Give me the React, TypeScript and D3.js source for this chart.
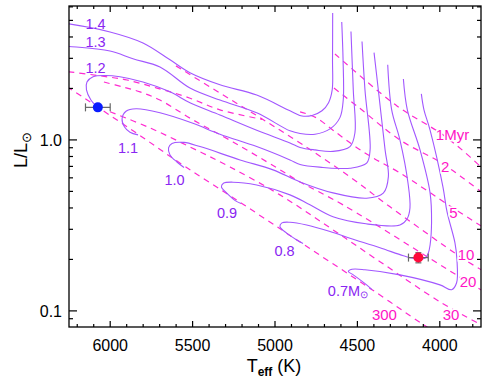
import React from "react";
import * as d3 from "d3";

// Pre-main-sequence tracks, [Teff (K), L/Lsun], from the Hayashi top down to the ZAMS end
const track14 = [[4650, 5.53], [4651, 2.94], [4653, 1.96], [4675, 1.65], [4715, 1.48], [4775, 1.39], [4836, 1.38], [4909, 1.48], [5111, 1.83], [5334, 2.1], [5516, 2.47], [5637, 2.94], [5801, 3.69], [6001, 4.28], [6250, 4.77], [6320, 4.85]];
const track13 = [[4595, 4.9], [4587, 2.94], [4586, 1.71], [4606, 1.35], [4666, 1.16], [4757, 1.08], [4848, 1.09], [4909, 1.13], [5111, 1.44], [5334, 1.71], [5516, 2.01], [5698, 2.67], [5862, 2.98], [6001, 3.31], [6250, 3.52], [6320, 3.56]];
const track12 = [[4539, 4.3], [4525, 1.96], [4515, 1.1], [4545, 0.914], [4648, 0.857], [4757, 0.874], [4848, 0.904], [4909, 0.96], [5111, 1.14], [5334, 1.4], [5516, 1.65], [5637, 1.91], [5801, 2.18], [5941, 2.34], [6032, 2.38], [6104, 2.34], [6141, 2.18], [6144, 1.96], [6117, 1.71], [6086, 1.58]];
const track11 = [[4472, 3.76], [4454, 1.96], [4423, 0.874], [4444, 0.731], [4545, 0.683], [4606, 0.681], [4709, 0.69], [4848, 0.719], [4909, 0.764], [5111, 0.914], [5334, 1.08], [5498, 1.25], [5698, 1.44], [5843, 1.52], [5904, 1.47], [5928, 1.33], [5913, 1.19], [5880, 1.11], [5831, 1.07]];
const track10 = [[4399, 3.24], [4373, 1.96], [4332, 0.874], [4312, 0.61], [4343, 0.488], [4444, 0.456], [4648, 0.49], [4848, 0.568], [5012, 0.668], [5212, 0.764], [5455, 0.914], [5552, 0.967], [5625, 0.954], [5646, 0.898], [5637, 0.817], [5595, 0.743], [5552, 0.69]];
const track09 = [[4316, 2.75], [4292, 1.5], [4242, 1.0], [4193, 0.56], [4181, 0.4], [4199, 0.345], [4242, 0.318], [4448, 0.323], [4648, 0.355], [4788, 0.417], [4909, 0.477], [5111, 0.545], [5255, 0.566], [5313, 0.558], [5325, 0.531], [5291, 0.487], [5234, 0.437], [5206, 0.425]];
const track08 = [[4221, 2.27], [4197, 1.5], [4120, 0.874], [4059, 0.49], [4050, 0.331], [4059, 0.243], [4070, 0.2175], [4090, 0.203], [4163, 0.203], [4221, 0.21], [4363, 0.234], [4545, 0.266], [4666, 0.291], [4808, 0.318], [4909, 0.33], [4958, 0.327], [4970, 0.311], [4929, 0.285], [4868, 0.26], [4830, 0.248]];
const track07 = [[4112, 1.86], [4096, 1.5], [4059, 1.14], [3981, 0.531], [3956, 0.379], [3908, 0.25], [3896, 0.199], [3898, 0.146], [3928, 0.133], [3999, 0.142], [4242, 0.1625], [4454, 0.174], [4533, 0.175], [4555, 0.17], [4525, 0.1625], [4444, 0.142], [4411, 0.133]];

const tracks = [track14, track13, track12, track11, track10, track09, track08, track07];
const trackNames = ["1.4", "1.3", "1.2", "1.1", "1.0", "0.9", "0.8", "0.7"];
const trackLabelAt = [[6089, 4.77], [6089, 3.72], [6089, 2.64], [5892, 0.898], [5610, 0.584], [5291, 0.374], [4942, 0.223], [4557, 0.131]];

// Isochrones
const iso1 = [[4636, 3.18], [4260, 1.58], [3999, 1.1], [3865, 0.874], [3740, 0.68]];
const iso2 = [[4642, 2.01], [4496, 1.56], [4242, 1.0], [3999, 0.743], [3877, 0.616], [3740, 0.49]];
const iso5 = [[4848, 1.46], [4751, 1.35], [4648, 1.14], [4527, 0.935], [4405, 0.785], [4242, 0.641], [3920, 0.4], [3740, 0.31]];
const iso10 = [[5601, 2.71], [5334, 1.88], [5091, 1.35], [4830, 0.935], [4545, 0.608], [4302, 0.406], [3865, 0.204], [3740, 0.172]];
const iso10b = [[6320, 2.53], [6250, 2.5], [6062, 2.37], [5898, 2.24], [5716, 2.01], [5534, 1.78], [5334, 1.5], [5079, 1.32]];
const iso20 = [[6038, 2.18], [5922, 2.04], [5819, 1.91], [5698, 1.71], [5498, 1.31], [5255, 0.973], [4988, 0.686], [4848, 0.568], [4587, 0.417], [3889, 0.16], [3740, 0.131]];
const iso30 = [[6001, 1.46], [5758, 1.175], [5516, 0.91], [5273, 0.695], [4970, 0.477], [4666, 0.306], [4363, 0.194], [3999, 0.113], [3740, 0.082]];
const iso300 = [[6320, 2.2], [6250, 2.01], [6086, 1.58], [5831, 1.08], [5552, 0.705], [5206, 0.428], [4830, 0.246], [4411, 0.133], [4078, 0.0806], [4040, 0.077]];

const isochrones = [iso1, iso2, iso5, iso10, iso10b, iso20, iso30, iso300];
const isoNames = ["1Myr", "2", "5", "10", "20", "30", "300"];
const isoLabelAt = [[3923, 1.07], [3968, 0.695], [3917, 0.374], [3841, 0.213], [3829, 0.148], [3932, 0.0947], [4336, 0.0947]];

// The two observed stars
const starTeff = [6075, 4130];
const starTeffErr = [75, 60];
const starL = [1.55, 0.205];
const starLErr = [0, 0.014];

const xMajor = [6000, 5500, 5000, 4500, 4000];
const xMinor = d3.range(3800, 6250, 100);
const yMajor = [0.1, 1.0];
const yMajorLabels = ["0.1", "1.0"];
const yMinor = [0.09, 0.2, 0.3, 0.4, 0.5, 0.6, 0.7, 0.8, 0.9, 2, 3, 4, 5, 6];

const W = 491, H = 381;
const L = 69, R = 481, T = 6, B = 327;
const font = "'Liberation Sans', Arial, Helvetica, sans-serif";
const trackColor = "#a257ff";
const trackText = "#8a26f2";
const isoColor = "#ff2ad0";
const isoText = "#ff14c6";

export default function App() {
  const x = d3.scaleLinear().domain([6250, 3750]).range([L, R]);
  const y = d3.scaleLog().domain([0.0805, 6.07]).range([B, T]);
  const line = d3.line<number[]>()
    .x(d => x(d[0]))
    .y(d => y(d[1]))
    .curve(d3.curveCatmullRom.alpha(0.5));

  return (
    <svg width={W} height={H} style={{ position: "absolute", left: 0, top: 0, background: "#fff" }}
      fontFamily={font}>
      <defs>
        <clipPath id="plot">
          <rect x={L} y={T} width={R - L} height={B - T} />
        </clipPath>
      </defs>

      <g clipPath="url(#plot)">
        {isochrones.map((d, i) => (
          <path key={"iso" + i} d={line(d) || ""} fill="none" stroke={isoColor}
            strokeWidth={1.2} strokeDasharray="6 5" />
        ))}
        {tracks.map((d, i) => (
          <path key={"tr" + i} d={line(d) || ""} fill="none" stroke={trackColor} strokeWidth={1.1} />
        ))}
      </g>

      {/* isochrone labels */}
      {isoNames.map((s, i) => (
        <text key={"il" + i} x={x(isoLabelAt[i][0])} y={y(isoLabelAt[i][1])} textAnchor="middle"
          dominantBaseline="central" fontSize={15} fill={isoText}
          stroke="#fff" strokeWidth={3} paintOrder="stroke">{s}</text>
      ))}

      {/* track labels */}
      {trackNames.map((s, i) => (
        <text key={"tl" + i} x={x(trackLabelAt[i][0])} y={y(trackLabelAt[i][1])}
          textAnchor="middle" dominantBaseline="central" fontSize={14.5} fill={trackText}>
          {s}
          {i === trackNames.length - 1 && (
            <>
              <tspan>M</tspan>
              <tspan fontSize={10} dy={3}>⊙</tspan>
            </>
          )}
        </text>
      ))}

      {/* stars with error bars */}
      {starTeff.map((t, i) => {
        const cx = x(t), cy = y(starL[i]);
        const x0 = x(t + starTeffErr[i]), x1 = x(t - starTeffErr[i]);
        const y0 = y(starL[i] + starLErr[i]), y1 = y(starL[i] - starLErr[i]);
        return (
          <g key={"s" + i} stroke="#666" strokeWidth={1.2}>
            <line x1={x0} x2={x1} y1={cy} y2={cy} />
            <line x1={x0} x2={x0} y1={cy - 4} y2={cy + 4} />
            <line x1={x1} x2={x1} y1={cy - 4} y2={cy + 4} />
            {starLErr[i] > 0 && (
              <>
                <line x1={cx} x2={cx} y1={y0} y2={y1} />
                <line x1={cx - 3} x2={cx + 3} y1={y0} y2={y0} />
                <line x1={cx - 3} x2={cx + 3} y1={y1} y2={y1} />
              </>
            )}
            <circle cx={cx} cy={cy} r={5} fill={i === 0 ? "#0a1cff" : "#ff0a3c"} stroke="none" />
          </g>
        );
      })}

      {/* frame and ticks */}
      <rect x={L} y={T} width={R - L} height={B - T} fill="none" stroke="#000" strokeWidth={1.3} />
      <g stroke="#000" strokeWidth={1.2}>
        {xMajor.map(v => (
          <g key={"xM" + v}>
            <line x1={x(v)} x2={x(v)} y1={B} y2={B - 6} />
            <line x1={x(v)} x2={x(v)} y1={T} y2={T + 6} />
          </g>
        ))}
        {xMinor.filter(v => !xMajor.includes(v)).map(v => (
          <g key={"xm" + v}>
            <line x1={x(v)} x2={x(v)} y1={B} y2={B - 3} />
            <line x1={x(v)} x2={x(v)} y1={T} y2={T + 3} />
          </g>
        ))}
        {yMajor.map(v => (
          <g key={"yM" + v}>
            <line x1={L} x2={L + 8} y1={y(v)} y2={y(v)} />
            <line x1={R} x2={R - 8} y1={y(v)} y2={y(v)} />
          </g>
        ))}
        {yMinor.map(v => (
          <g key={"ym" + v}>
            <line x1={L} x2={L + 4} y1={y(v)} y2={y(v)} />
            <line x1={R} x2={R - 4} y1={y(v)} y2={y(v)} />
          </g>
        ))}
      </g>

      {xMajor.map(v => (
        <text key={"xt" + v} x={x(v)} y={B + 24} textAnchor="middle" fontSize={16}>{v}</text>
      ))}
      {yMajor.map((v, i) => (
        <text key={"yt" + v} x={L - 7} y={y(v) + 1} textAnchor="end" dominantBaseline="central"
          fontSize={16}>{yMajorLabels[i]}</text>
      ))}

      {/* axis titles */}
      <text x={274} y={372} textAnchor="middle" fontSize={18}>
        T<tspan fontSize={12} fontWeight="bold" dy={4}>eff</tspan>
        <tspan dy={-4}>{" (K)"}</tspan>
      </text>
      <text transform="translate(27,150) rotate(-90)" textAnchor="middle" fontSize={18}>
        L/L<tspan fontSize={13} dy={4}>⊙</tspan>
      </text>
    </svg>
  );
}
